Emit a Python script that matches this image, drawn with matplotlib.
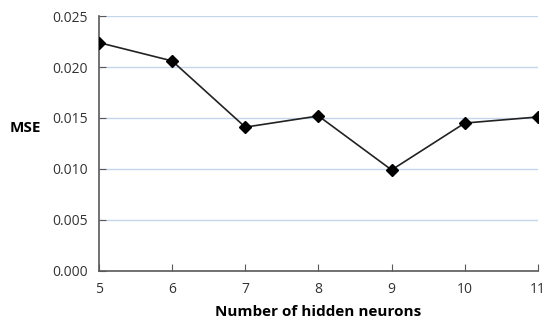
import matplotlib.pyplot as plt

neurons = [5, 6, 7, 8, 9, 10, 11]
mse = [0.0224, 0.0206, 0.0141, 0.0152, 0.0099, 0.0145, 0.0151]
y_ticks = [0.000, 0.005, 0.010, 0.015, 0.020, 0.025]

plt.rcParams['font.family'] = ['Open Sans', 'DejaVu Sans']

fig = plt.figure(figsize=(5.5, 3.29), dpi=100)
ax = fig.add_axes([0.18, 0.177, 0.798, 0.774])

ax.plot(neurons, mse, color='#222222', linewidth=1.2, marker='D', markersize=6,
        markerfacecolor='black', markeredgecolor='black', zorder=3)

ax.set_xlim(5, 11)
ax.set_ylim(0, 0.025)
ax.set_xticks(neurons)
ax.set_yticks(y_ticks)
ax.set_yticklabels([f"{v:.3f}" for v in y_ticks])

ax.yaxis.grid(True, color='#c5d5ec', linewidth=1)
ax.set_axisbelow(True)

for s in ['top', 'right']:
    ax.spines[s].set_visible(False)
for s in ['left', 'bottom']:
    ax.spines[s].set_color('#595959')
    ax.spines[s].set_linewidth(1.2)

ax.tick_params(axis='both', direction='in', length=5, color='#595959',
               labelsize=10, labelcolor='#333333', pad=8)

ax.set_xlabel("Number of hidden neurons", fontsize=11, fontweight='bold', labelpad=6)
ax.set_ylabel("MSE", fontsize=11, fontweight='bold', rotation=0, va='center', ha='center')
ax.yaxis.set_label_coords(-0.168, 0.56)

fig.savefig("out.png", dpi=100)
